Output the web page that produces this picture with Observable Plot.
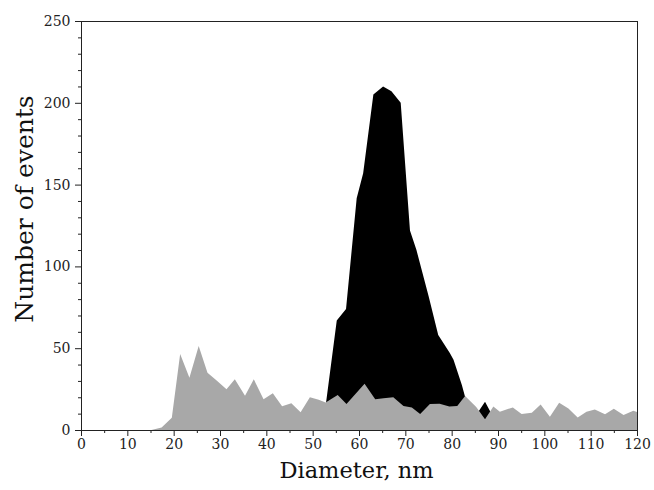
<!DOCTYPE html>
<html><head><meta charset="utf-8">
<script src="https://cdn.jsdelivr.net/npm/d3@7"></script>
<script src="https://cdn.jsdelivr.net/npm/@observablehq/plot@0.6"></script>
<style>body{margin:0;background:#fff;} svg{display:block;}</style>
</head><body><div id="chart"></div>
<script>
const grayX = [0, 15.2, 17.4, 19.6, 21.4, 23.4, 25.4, 27.3, 29.4, 31.4, 33.2, 35.4, 37.3, 39.4, 41.4, 43.4, 45.4, 47.4, 49.4, 51.3, 52.8, 55.4, 57.3, 61.2, 63.5, 65.3, 67.4, 69.6, 71.4, 73.2, 75.3, 77.4, 79.5, 81.2, 82.9, 85.3, 87.2, 89.0, 90.4, 93.2, 95.1, 97.3, 99.2, 101.2, 103.2, 105.2, 107.2, 109.1, 110.9, 113.1, 115.0, 117.1, 119.2, 120];
const grayY = [0, 0, 1.5, 7.5, 46.5, 32, 51.3, 35, 30, 24.9, 31, 21, 31, 18.8, 22.4, 14.5, 16.3, 10.8, 20, 18.5, 16.8, 21.4, 15.9, 28.3, 18.8, 19.4, 20, 14.7, 13.8, 9.8, 15.9, 16, 14.3, 14.7, 20.8, 14, 6.5, 14.3, 11.2, 13.8, 9.8, 10.6, 15.6, 8.1, 16.7, 13.2, 7.7, 11.2, 12.6, 9.6, 13, 9.2, 11.8, 11];
const blackX = [51, 52.9, 55.2, 57.2, 59.5, 60.9, 63.1, 65.2, 67, 69, 71, 72.4, 75, 77.1, 79.6, 80.4, 82.2, 83.4, 85, 87.2, 89.5, 91];
const blackY = [0, 17, 67, 74, 141.6, 157, 205, 210, 207, 200, 122, 110, 82, 58, 47, 43, 27.5, 15, 8, 17.3, 5, 0];
const xTicks = [0, 10, 20, 30, 40, 50, 60, 70, 80, 90, 100, 110, 120];
const xMinor = [5, 15, 25, 35, 45, 55, 65, 75, 85, 95, 105, 115];
const yTicks = [0, 50, 100, 150, 200, 250];
const yMinor = [10, 20, 30, 40, 60, 70, 80, 90, 110, 120, 130, 140, 160, 170, 180, 190, 210, 220, 230, 240];
const xTitle = "Diameter, nm";
const yTitle = "Number of events";

const grayData = grayX.map((x, i) => ({x, y: grayY[i]}));
const blackData = blackX.map((x, i) => ({x, y: blackY[i]}));

const chart = Plot.plot({
  width: 654,
  height: 490,
  marginLeft: 81,
  marginRight: 17,
  marginTop: 21,
  marginBottom: 60,
  style: {fontFamily: "DejaVu Serif", fontSize: "14px", color: "#222", background: "#fff"},
  x: {domain: [0, 120]},
  y: {domain: [0, 250]},
  marks: [
    Plot.areaY(blackData, {x: "x", y: "y", fill: "#000"}),
    Plot.areaY(grayData, {x: "x", y: "y", fill: "#a8a8a8"}),
    Plot.axisX(xTicks, {tickSize: 6, tickPadding: 3, label: null, tickFormat: d => d, stroke: "#222"}),
    Plot.axisX(xMinor, {tickSize: 3, label: null, tickFormat: () => "", stroke: "#222"}),
    Plot.axisY(yTicks, {tickSize: 6, tickPadding: 5, label: null, tickFormat: d => d, stroke: "#222"}),
    Plot.axisY(yMinor, {tickSize: 3, label: null, tickFormat: () => "", stroke: "#222"}),
    Plot.frame({stroke: "#222"}),
    Plot.text([xTitle], {frameAnchor: "bottom", dx: -3, dy: 40, textAnchor: "middle", lineAnchor: "middle", fontSize: 22.5, fill: "#111"}),
    Plot.text([yTitle], {frameAnchor: "left", dx: -57, dy: -17, rotate: -90, textAnchor: "middle", lineAnchor: "middle", fontSize: 25, fill: "#111"})
  ]
});
document.getElementById("chart").append(chart);
</script>
</body></html>
